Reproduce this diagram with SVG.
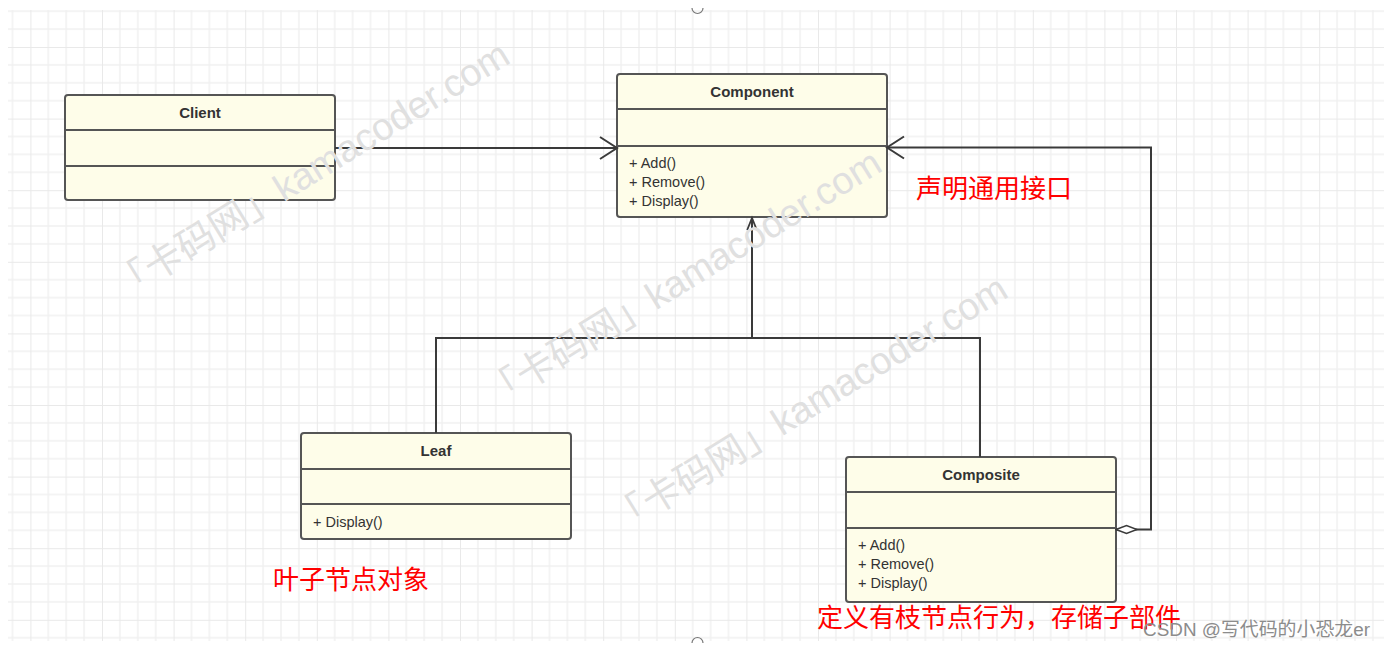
<svg xmlns="http://www.w3.org/2000/svg" width="1386" height="647" viewBox="0 0 1386 647">
  <defs>
    <pattern id="grid" patternUnits="userSpaceOnUse" x="30.4" y="47" width="71.6" height="71.6">
      <path d="M17.9 0V71.6M35.8 0V71.6M53.7 0V71.6M0 17.9H71.6M0 35.8H71.6M0 53.7H71.6" stroke="#f1f1f1" stroke-width="1.5" fill="none"/>
      <path d="M0 0V71.6M0 0H71.6" stroke="#e9e9e9" stroke-width="2" fill="none"/>
    </pattern>
    <marker id="open" markerUnits="userSpaceOnUse" markerWidth="24" markerHeight="26" refX="18" refY="12" orient="auto">
      <path d="M1 1L18 12L1 23" fill="none" stroke="#3a3a3a" stroke-width="2"/>
    </marker>
    <marker id="gen" markerUnits="userSpaceOnUse" markerWidth="16" markerHeight="14" refX="13" refY="6" orient="auto">
      <path d="M1 1.2L13 6L1 10.8" fill="none" stroke="#3a3a3a" stroke-width="1.8"/>
    </marker>
    <marker id="diamond" markerUnits="userSpaceOnUse" markerWidth="24" markerHeight="12" refX="1" refY="6" orient="auto">
      <path d="M1 6L11.5 2L22 6L11.5 10Z" fill="#ffffff" stroke="#3a3a3a" stroke-width="1.6"/>
    </marker>
  </defs>
  <style>
    .box{fill:#fefde9;stroke:#555;stroke-width:2}
    .sep{stroke:#555;stroke-width:2}
    .title{font-family:"Liberation Sans",Arial,sans-serif;font-size:15px;font-weight:bold;fill:#333;text-anchor:middle}
    .op{font-family:"Liberation Sans",Arial,sans-serif;font-size:14.5px;fill:#333}
    .conn{fill:none;stroke:#3a3a3a;stroke-width:2}
    .note{font-family:"Noto Sans CJK SC",sans-serif;font-size:26px;fill:#ff0000}
    .wm{font-family:"Liberation Sans","Noto Sans CJK SC",sans-serif;font-size:38px;fill:#e0e0e0}
  </style>
  <rect x="0" y="0" width="1386" height="647" fill="#ffffff"/>
  <rect x="8" y="10" width="1376" height="631" fill="url(#grid)"/>
  <path d="M692 8A5.5 5.5 0 0 0 703 8" fill="none" stroke="#777" stroke-width="1.2"/>
  <path d="M692 643A5.5 5.5 0 0 1 703 643" fill="none" stroke="#777" stroke-width="1.2"/>

  <g id="client">
    <rect class="box" x="65" y="95" width="270" height="105" rx="3"/>
    <line class="sep" x1="65" y1="130" x2="335" y2="130"/>
    <line class="sep" x1="65" y1="166" x2="335" y2="166"/>
    <text class="title" x="200" y="117.5">Client</text>
  </g>
  <g id="component">
    <rect class="box" x="617" y="74" width="270" height="143" rx="3"/>
    <line class="sep" x1="617" y1="109" x2="887" y2="109"/>
    <line class="sep" x1="617" y1="146" x2="887" y2="146"/>
    <text class="title" x="752" y="96.5">Component</text>
    <text class="op" x="629" y="167.5">+ Add()</text>
    <text class="op" x="629" y="186.8">+ Remove()</text>
    <text class="op" x="629" y="206">+ Display()</text>
  </g>
  <g id="leaf">
    <rect class="box" x="301" y="433" width="270" height="106" rx="3"/>
    <line class="sep" x1="301" y1="469" x2="571" y2="469"/>
    <line class="sep" x1="301" y1="504" x2="571" y2="504"/>
    <text class="title" x="436" y="456">Leaf</text>
    <text class="op" x="313" y="526.5">+ Display()</text>
  </g>
  <g id="composite">
    <rect class="box" x="846" y="457" width="270" height="145" rx="3"/>
    <line class="sep" x1="846" y1="492" x2="1116" y2="492"/>
    <line class="sep" x1="846" y1="528" x2="1116" y2="528"/>
    <text class="title" x="981" y="479.5">Composite</text>
    <text class="op" x="858" y="549.5">+ Add()</text>
    <text class="op" x="858" y="568.8">+ Remove()</text>
    <text class="op" x="858" y="588.1">+ Display()</text>
  </g>

  <g id="connectors">
    <path class="conn" d="M335 148H617" marker-end="url(#open)"/>
    <path class="conn" d="M1116 529.5H1151V147.5H887" marker-start="url(#diamond)" marker-end="url(#open)"/>
    <path class="conn" d="M752 338V218" marker-end="url(#gen)"/>
    <path class="conn" d="M436 433V338H980V457"/>
  </g>

  <g id="watermark">
    <text class="wm" transform="translate(122 302) rotate(-31.6)">「卡码网」kamacoder.com</text>
    <text class="wm" transform="translate(494 410) rotate(-31.6)">「卡码网」kamacoder.com</text>
    <text class="wm" transform="translate(620 536) rotate(-31.6)">「卡码网」kamacoder.com</text>
  </g>

  <g id="notes">
    <text class="note" x="916" y="198">声明通用接口</text>
    <text class="note" x="273" y="589">叶子节点对象</text>
    <text class="note" x="817" y="627">定义有枝节点行为，存储子部件</text>
  </g>
  <text x="1143" y="636" font-family="'Liberation Sans','Noto Sans CJK SC',sans-serif" font-size="18.9" fill="#8c8c8c">CSDN @写代码的小恐龙er</text>
</svg>
